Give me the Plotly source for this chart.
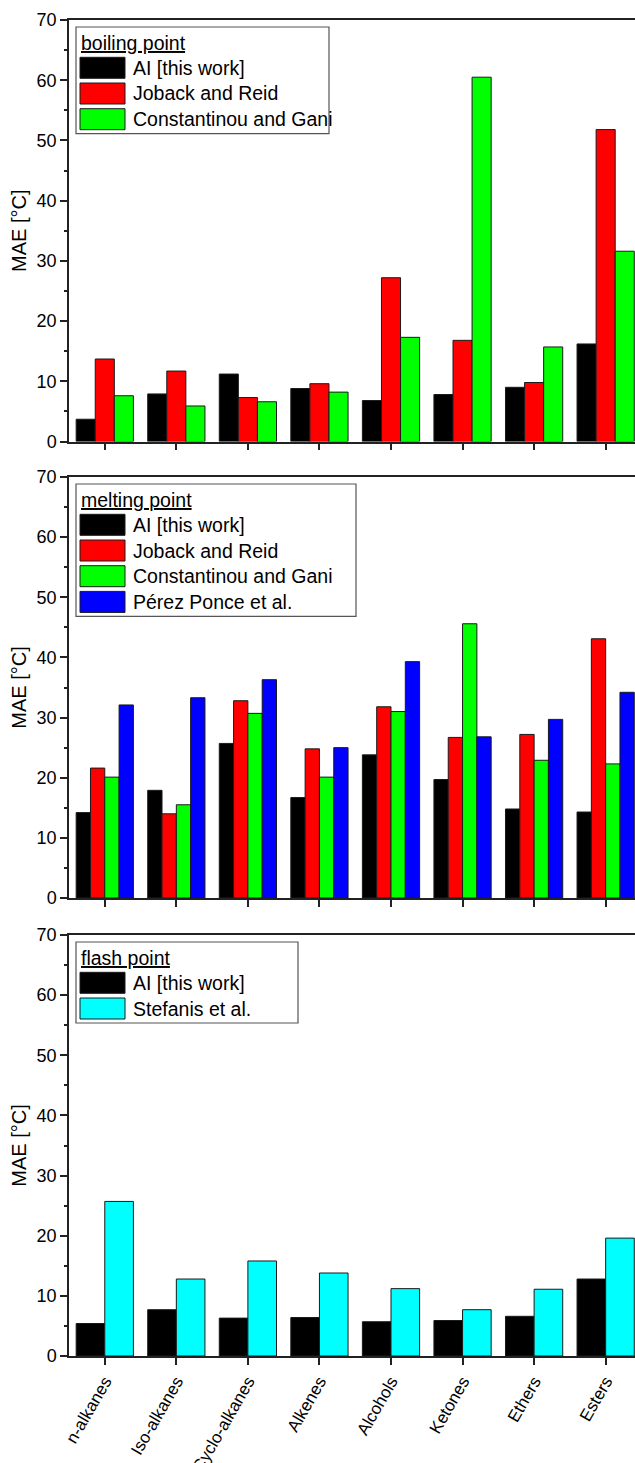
import plotly.graph_objects as go
from plotly.subplots import make_subplots

# Compound families on the shared x axis
categories = ["n-alkanes", "Iso-alkanes", "Cyclo-alkanes", "Alkenes",
              "Alcohols", "Ketones", "Ethers", "Esters"]

# Boiling point MAE [°C]
bp_ai = [3.7, 7.9, 11.2, 8.8, 6.8, 7.8, 9.0, 16.2]
bp_joback = [13.7, 11.7, 7.3, 9.6, 27.2, 16.8, 9.8, 51.8]
bp_cg = [7.6, 5.9, 6.6, 8.2, 17.3, 60.5, 15.7, 31.6]

# Melting point MAE [°C]
mp_ai = [14.2, 17.9, 25.7, 16.7, 23.8, 19.7, 14.8, 14.3]
mp_joback = [21.6, 14.0, 32.8, 24.8, 31.8, 26.7, 27.2, 43.1]
mp_cg = [20.1, 15.5, 30.7, 20.1, 31.0, 45.6, 22.9, 22.3]
mp_pp = [32.1, 33.3, 36.3, 25.0, 39.3, 26.8, 29.7, 34.2]

# Flash point MAE [°C]
fp_ai = [5.4, 7.7, 6.3, 6.4, 5.7, 5.9, 6.6, 12.8]
fp_stef = [25.7, 12.8, 15.8, 13.8, 11.2, 7.7, 11.1, 19.6]

name_ai = "AI [this work]"
name_joback = "Joback and Reid"
name_cg = "Constantinou and Gani"
name_pp = "Pérez Ponce et al."
name_stef = "Stefanis et al."

BLACK, RED, GREEN, BLUE, CYAN = "#000000", "#ff0000", "#00ff00", "#0000ff", "#00ffff"

panels = [
    ("boiling point", [(name_ai, bp_ai, BLACK), (name_joback, bp_joback, RED),
                       (name_cg, bp_cg, GREEN)], 329),
    ("melting point", [(name_ai, mp_ai, BLACK), (name_joback, mp_joback, RED),
                       (name_cg, mp_cg, GREEN), (name_pp, mp_pp, BLUE)], 356),
    ("flash point", [(name_ai, fp_ai, BLACK), (name_stef, fp_stef, CYAN)], 298),
]

# Page geometry (pixels)
W_FIG, H_FIG = 635, 1463
M_L, M_R, M_T, M_B = 69, 0, 20, 107
PLOT_W = W_FIG - M_L - M_R
PLOT_H = H_FIG - M_T - M_B
PLOT_BOTTOM = H_FIG - M_B
panel_tops = [20, 477, 935]
panel_bottoms = [441.5, 898, 1356]


def px_x(px):
    return (px - M_L) / PLOT_W


def px_y(py):
    return (PLOT_BOTTOM - py) / PLOT_H


fig = make_subplots(rows=3, cols=1)

FONT = "Liberation Sans, Arial, sans-serif"
AX = "#222222"

for i, (title, series, box_right) in enumerate(panels):
    row = i + 1
    for name, vals, color in series:
        fig.add_trace(
            go.Bar(x=categories, y=vals, name=name, showlegend=False,
                   marker=dict(color=color, line=dict(color="#1a1a1a", width=1))),
            row=row, col=1)

    fig.update_xaxes(
        row=row, col=1, range=[-0.5, 7.41], domain=[0, 1],
        showline=True, linecolor=AX, linewidth=1.5, mirror=True,
        ticks="outside", ticklen=7, tickwidth=1.5, tickcolor=AX,
        showgrid=False, zeroline=False, showticklabels=(row == 3),
        tickangle=-60, tickfont=dict(family=FONT, size=17, color="#000"))
    fig.update_yaxes(
        row=row, col=1, range=[0, 70], dtick=10,
        domain=[px_y(panel_bottoms[i]), px_y(panel_tops[i])],
        showline=True, linecolor=AX, linewidth=1.5,
        ticks="outside", ticklen=7, tickwidth=1.5, tickcolor=AX,
        minor=dict(dtick=5, ticks="outside", ticklen=3, tickwidth=1.5, tickcolor=AX),
        showgrid=False, zeroline=False,
        tickfont=dict(family=FONT, size=18, color="#000"),
        title=dict(text="MAE [°C]", font=dict(family=FONT, size=20, color="#000"),
                   standoff=5))

    # Legend box drawn with shapes and text
    T = panel_tops[i]
    n = len(series)
    box_top = T + 7
    row0 = T + 37.3
    pitch = 25.7
    sw_h = 21
    box_bottom = row0 + (n - 1) * pitch + sw_h + 4
    fig.add_shape(type="rect", xref="paper", yref="paper",
                  x0=px_x(76), x1=px_x(box_right), y0=px_y(box_bottom), y1=px_y(box_top),
                  line=dict(color="#555555", width=1.2), fillcolor="white", layer="above")
    fig.add_annotation(xref="paper", yref="paper", x=px_x(79), y=px_y(T + 23),
                       xanchor="left", yanchor="middle", showarrow=False,
                       text="<u>%s</u>" % title,
                       font=dict(family=FONT, size=19.5, color="#000"))
    for k, (name, vals, color) in enumerate(series):
        y0 = row0 + k * pitch
        fig.add_shape(type="rect", xref="paper", yref="paper",
                      x0=px_x(80), x1=px_x(125), y0=px_y(y0 + sw_h), y1=px_y(y0),
                      line=dict(color="#1a1a1a", width=1), fillcolor=color, layer="above")
        fig.add_annotation(xref="paper", yref="paper", x=px_x(131), y=px_y(y0 + sw_h / 2),
                           xanchor="left", yanchor="middle", showarrow=False,
                           text=name, font=dict(family=FONT, size=19.5, color="#000"))

fig.update_layout(
    width=W_FIG, height=H_FIG,
    margin=dict(l=M_L, r=M_R, t=M_T, b=M_B, autoexpand=False),
    barmode="group", bargap=0.2, bargroupgap=0,
    plot_bgcolor="white", paper_bgcolor="white",
    font=dict(family=FONT, color="#000"),
    showlegend=False,
)

fig.write_html("out.html", config={"displayModeBar": False})
